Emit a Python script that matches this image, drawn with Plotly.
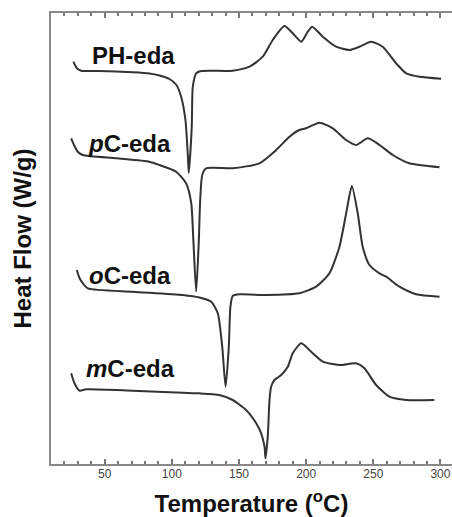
import plotly.graph_objects as go

# Temperature (°C) and heat flow (arbitrary offset units)
ph_T = [26.7, 29.2, 32.5, 46.1, 70.9, 83.3, 90.8, 98.2, 103.4, 106.9, 110.1, 111.8, 112.6,
        114.8, 115.6, 118.1, 121.8, 145.3, 157.8, 167.7, 175.1, 183.8, 190.0, 196.3, 201.2,
        204.5, 212.4, 222.3, 232.2, 239.7, 248.4, 257.0, 267.0, 274.5, 284.4, 300.5]
ph_hf = [402.3, 395.7, 393.3, 393.0, 391.7, 390.5, 388.5, 385.0, 379.0, 367.3, 344.0, 311.0, 291.0,
         337.3, 377.3, 390.7, 393.0, 393.3, 397.3, 407.3, 424.0, 438.0, 430.7, 422.3, 432.3,
         437.3, 427.3, 417.3, 414.0, 417.3, 422.3, 417.3, 400.7, 390.7, 387.3, 385.3]

pc_T = [25.0, 27.5, 29.9, 33.7, 58.5, 83.3, 90.8, 103.2, 110.6, 114.4, 116.1, 118.1, 120.0,
        121.1, 122.6, 125.5, 145.3, 165.2, 177.7, 187.6, 195.0, 200.0, 209.9, 219.8, 229.8,
        237.2, 245.9, 254.6, 264.5, 276.9, 299.3]
pc_hf = [325.7, 318.0, 312.3, 309.0, 305.7, 302.3, 299.0, 292.3, 280.7, 261.0, 221.0, 172.3, 221.0,
         264.0, 289.0, 295.7, 295.7, 300.7, 314.0, 327.3, 334.0, 335.7, 341.3, 335.7, 324.0,
         319.0, 325.7, 319.0, 309.0, 300.7, 296.7]

oc_T = [29.2, 31.2, 33.7, 37.4, 70.9, 108.1, 120.5, 129.3, 134.2, 137.5, 140.0, 142.4, 143.6,
        145.3, 150.3, 170.2, 195.0, 207.4, 217.3, 224.8, 229.8, 234.0, 238.4, 242.1, 247.1,
        254.6, 259.6, 269.5, 281.9, 299.3]
oc_hf = [194.0, 186.0, 180.7, 175.7, 172.3, 169.0, 166.5, 162.3, 150.7, 117.3, 77.3, 117.3, 157.3,
         168.0, 169.7, 169.0, 170.7, 177.3, 190.7, 217.3, 250.7, 278.0, 250.7, 217.3, 199.0,
         190.7, 187.3, 177.3, 169.7, 167.3]

mc_T = [25.0, 27.5, 31.2, 36.2, 70.9, 108.1, 120.5, 135.4, 145.3, 155.3, 162.8, 166.5, 169.0,
        169.7, 171.4, 172.7, 173.9, 176.4, 181.4, 186.3, 190.0, 196.3, 204.9, 212.4, 224.8,
        237.2, 243.4, 252.1, 262.0, 274.5, 295.5]
mc_hf = [90.7, 80.7, 73.3, 74.7, 73.3, 71.3, 70.7, 69.0, 64.0, 54.0, 40.7, 30.7, 17.3,
         5.7, 27.3, 64.0, 77.3, 84.0, 89.0, 97.3, 110.7, 120.7, 110.7, 102.3, 99.0,
         100.7, 95.7, 79.0, 67.3, 64.0, 64.0]

series_names = ["PH-eda", "<i>p</i>C-eda", "<i>o</i>C-eda", "<i>m</i>C-eda"]
label_T = [71.5, 68.5, 68.5, 69.0]
label_hf = [409, 321, 189, 96]

x_ticks = [50, 100, 150, 200, 250, 300]

fig = go.Figure()
for T, hf in [(ph_T, ph_hf), (pc_T, pc_hf), (oc_T, oc_hf), (mc_T, mc_hf)]:
    fig.add_trace(go.Scatter(x=T, y=hf, mode="lines",
                             line=dict(color="#333333", width=2, shape="spline", smoothing=0.6),
                             showlegend=False, hoverinfo="skip"))

for name, lx, ly in zip(series_names, label_T, label_hf):
    fig.add_annotation(x=lx, y=ly, text="<b>" + name + "</b>", showarrow=False,
                       font=dict(family="Liberation Sans, Arial", size=24, color="#111"),
                       xanchor="center", yanchor="middle")

fig.update_layout(
    width=452, height=517,
    margin=dict(l=51, r=0, t=13, b=53),
    paper_bgcolor="white", plot_bgcolor="white",
    font=dict(family="Liberation Sans, Arial", color="#222"),
    xaxis=dict(range=[10, 308.6], tickvals=x_ticks, ticks="inside", ticklen=5, tickwidth=1.5,
               tickcolor="#777", showline=True, linecolor="#888", linewidth=2, mirror="ticks",
               showgrid=False, zeroline=False, tickfont=dict(size=12, color="#444"),
               ticklabelstandoff=-2,
               minor=dict(dtick=10, tick0=0, ticks="inside", ticklen=3, tickwidth=1.5, tickcolor="#777", showgrid=False),
               title=dict(text="<b>Temperature (<sup>o</sup>C)</b>", standoff=16,
                          font=dict(size=24, color="#111")),
               automargin=False),
    yaxis=dict(range=[0, 451], showticklabels=False, ticks="", showline=True, linecolor="#888",
               linewidth=2, showgrid=False, zeroline=False,
               title=dict(text="<b>Heat Flow (W/g)</b>", standoff=11,
                          font=dict(size=24, color="#111")),
               automargin=False),
)

fig.write_html("out.html", config={"displayModeBar": False},
               post_script="document.body.style.margin='0';document.body.style.overflow='hidden';")
